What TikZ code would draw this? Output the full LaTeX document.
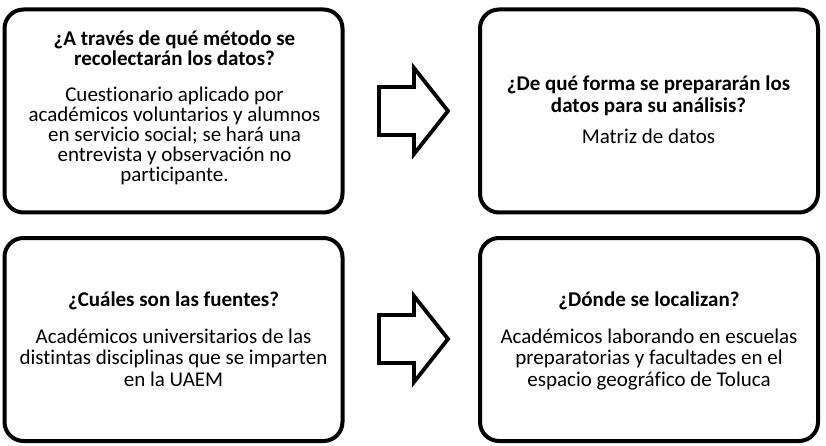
\documentclass[tikz,border=0pt]{standalone}
\usepackage{fontspec}
\setmainfont{Carlito}[Ligatures=CommonOff]
\newcommand\myTopStrut{\rule{0pt}{17pt}}
\begin{document}
\begin{tikzpicture}[x=1pt,y=-1pt,
  box/.style={draw=black, line width=4pt, rounded corners=19pt, fill=white,
    minimum width=338pt, minimum height=203pt, inner sep=0pt},
  txt/.style={anchor=north, align=center, inner sep=0pt},
  bigarrow/.style={draw=black, line width=3.8pt, fill=white, line join=miter}]
\useasboundingbox (0,0) rectangle (826,446);
\node[box] (b1) at (173.5,111) {};
\node[box] (b2) at (649,111) {};
\node[box] (b3) at (173.5,339.5) {};
\node[box] (b4) at (649,339.5) {};
\node[txt, font=\fontsize{21}{20}\selectfont] (t1) at (174.5,28) {\myTopStrut\textbf{¿A través de qué método se}\\\textbf{recolectarán los datos?}\\[16.5pt]
  Cuestionario aplicado por\\académicos voluntarios y alumnos\\en servicio social; se hará una\\entrevista y observación no\\participante.};
\node[txt, font=\fontsize{21}{20}\selectfont] (t2) at (648.5,73.7) {\myTopStrut\textbf{¿De qué forma se prepararán los}\\[2pt]\textbf{datos para su análisis?}\\[10.6pt]
  Matriz de datos};
\node[txt, font=\fontsize{21}{21.5}\selectfont] (t3) at (173.5,289) {\myTopStrut\textbf{¿Cuáles son las fuentes?}\\[15.5pt]
  Académicos universitarios de las\\distintas disciplinas que se imparten\\en la UAEM};
\node[txt, font=\fontsize{21}{21.5}\selectfont] (t4) at (649,289) {\myTopStrut\textbf{¿Dónde se localizan?}\\[15.5pt]
  Académicos laborando en escuelas\\preparatorias y facultades en el\\espacio geográfico de Toluca};
\draw[bigarrow] (379,87) -- (414,87) -- (414,68) -- (448,111) -- (414,154) -- (414,135) -- (379,135) -- cycle;
\draw[bigarrow] (379,315) -- (414,315) -- (414,296) -- (448,339) -- (414,382) -- (414,363) -- (379,363) -- cycle;
\end{tikzpicture}
\end{document}
